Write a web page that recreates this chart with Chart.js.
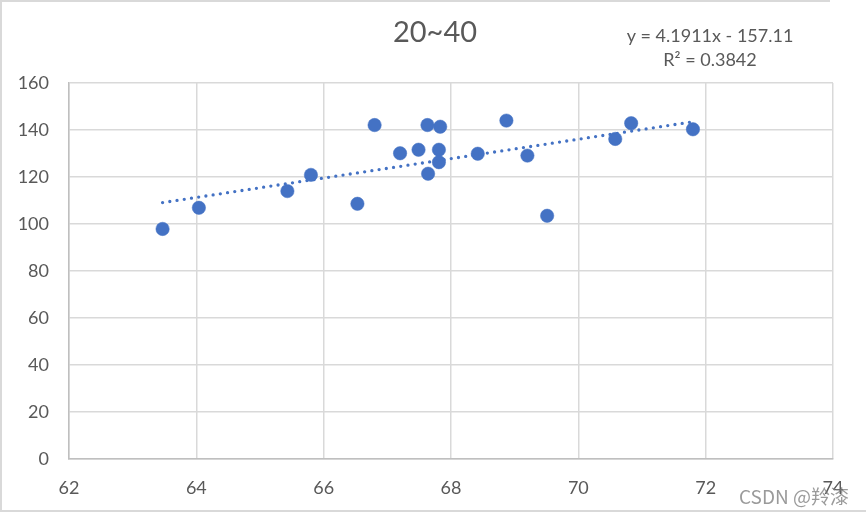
<!DOCTYPE html>
<html>
<head>
<meta charset="utf-8">
<script src="https://cdn.jsdelivr.net/npm/chart.js@4/dist/chart.umd.min.js"></script>
<style>
    body { margin: 0; background: #fff; }
    #wrap { position: relative; width: 866px; height: 515px; }
    #chart { position: absolute; left: 0; top: 0; }
    .edge { position: absolute; background: #d9d9d9; }
    #mark {
        position: absolute; left: 739px; top: 482px;
        font: 19px "Noto Sans CJK SC", "Noto Sans", sans-serif;
        color: rgba(120, 120, 120, 0.75);
    }
</style>
</head>
<body>
<div id="wrap">
    <canvas id="chart" width="866" height="515"></canvas>
    <div class="edge" style="left:0;top:0;width:830px;height:2px"></div>
    <div class="edge" style="left:0;top:0;width:2px;height:511px"></div>
    <div class="edge" style="left:0;top:510px;width:866px;height:2px"></div>
    <div id="mark">CSDN @羚漆</div>
</div>
<script>
// 身高 (x) / 体重 (y) 散点, 读自原图
const heights = [63.47, 64.04, 65.43, 65.80, 66.53, 66.80, 67.20, 67.49, 67.63, 67.64,
                 67.81, 67.83, 67.81, 68.42, 68.87, 69.20, 69.51, 70.58, 70.83, 71.80];
const weights = [97.9, 106.9, 114.0, 120.9, 108.6, 142.1, 130.1, 131.6, 142.1, 121.4,
                 131.6, 141.4, 126.3, 129.9, 144.0, 129.1, 103.5, 136.2, 142.9, 140.3];

// trendline end points as seen in the picture
const trendX = [63.47, 71.80];
const trendY = [109.1, 143.5];

const chartTitle = '20~40';
const equation = 'y = 4.1911x - 157.11';
const rSquared = 'R² = 0.3842';

const xTicks = [62, 64, 66, 68, 70, 72, 74];
const yTicks = [0, 20, 40, 60, 80, 100, 120, 140, 160];

const blue = '#4472C4';
const textColor = '#595959';
const fontFamily = 'Lato, "Open Sans", sans-serif';

// title + trendline label, placed like the excel chart
const chartLabels = {
    id: 'chartLabels',
    afterDraw(chart) {
        const ctx = chart.ctx;
        ctx.save();
        ctx.fillStyle = textColor;
        ctx.textAlign = 'center';
        ctx.textBaseline = 'middle';
        ctx.font = '29px ' + fontFamily;
        ctx.fillText(chartTitle, 435, 33);
        ctx.font = '18px ' + fontFamily;
        ctx.fillText(equation, 710, 36);
        ctx.fillText(rSquared, 710, 60);
        ctx.restore();
    }
};

new Chart(document.getElementById('chart'), {
    type: 'scatter',
    data: {
        datasets: [
            {
                label: 'trend',
                type: 'line',
                data: trendX.map((x, i) => ({ x: x, y: trendY[i] })),
                borderColor: blue,
                borderWidth: 3.3,
                borderDash: [0, 7.3],
                borderCapStyle: 'round',
                pointRadius: 0,
                fill: false,
                order: 0
            },
            {
                label: 'data',
                data: heights.map((x, i) => ({ x: x, y: weights[i] })),
                backgroundColor: blue,
                borderColor: blue,
                borderWidth: 0.5,
                pointRadius: 6.7,
                order: 1
            }
        ]
    },
    options: {
        responsive: false,
        animation: false,
        layout: { padding: { left: 0, right: 33, top: 83, bottom: 0 } },
        plugins: {
            legend: { display: false },
            tooltip: { enabled: false },
            title: { display: false }
        },
        scales: {
            x: {
                type: 'linear',
                min: 62,
                max: 74,
                afterBuildTicks: scale => { scale.ticks = xTicks.map(v => ({ value: v })); },
                afterFit: scale => { scale.height = 56; },
                ticks: {
                    color: textColor,
                    font: { family: fontFamily, size: 18 },
                    padding: 18
                },
                grid: { color: '#d9d9d9', lineWidth: 1.5, drawTicks: false },
                border: { color: '#bfbfbf', width: 1.5 }
            },
            y: {
                min: 0,
                max: 160,
                afterBuildTicks: scale => { scale.ticks = yTicks.map(v => ({ value: v })); },
                afterFit: scale => { scale.width = 69; },
                ticks: {
                    color: textColor,
                    font: { family: fontFamily, size: 18 },
                    padding: 20
                },
                grid: { color: '#d9d9d9', lineWidth: 1.5, drawTicks: false },
                border: { color: '#bfbfbf', width: 1.5 }
            }
        }
    },
    plugins: [chartLabels]
});
</script>
</body>
</html>
